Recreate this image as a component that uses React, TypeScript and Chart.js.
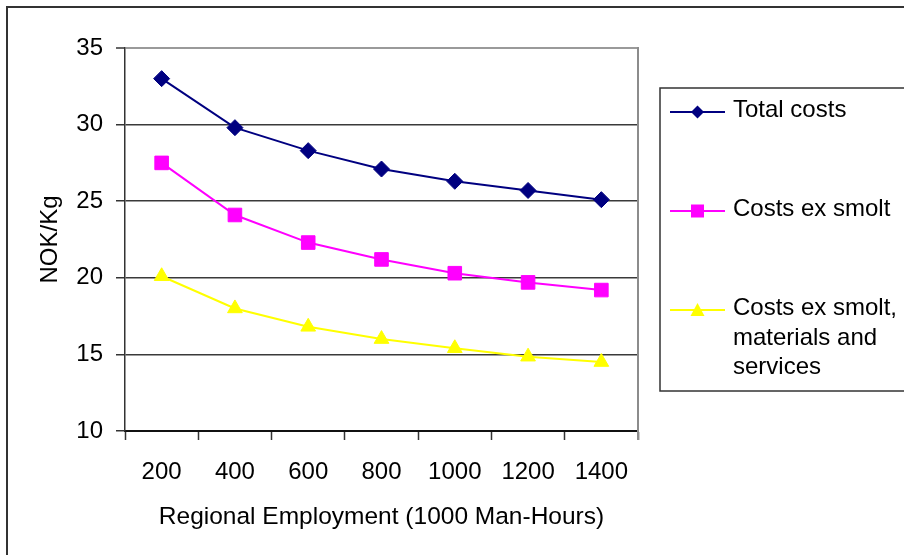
import React, { useEffect, useRef } from 'react';
import { Chart, registerables } from 'chart.js';

Chart.register(...registerables);

// Regional employment categories (1000 man-hours)
const categories = ['200', '400', '600', '800', '1000', '1200', '1400'];

// Cost per kg (NOK) for each series
const totalCosts = [33.0, 29.8, 28.3, 27.1, 26.3, 25.7, 25.1];
const costsExSmolt = [27.5, 24.1, 22.3, 21.2, 20.3, 19.7, 19.2];
const costsExSmoltMatServ = [20.1, 18.0, 16.8, 16.0, 15.4, 14.85, 14.5];

// Legend text, one entry per series (multi-line where wrapped)
const seriesLabels = [
  ['Total costs'],
  ['Costs ex smolt'],
  ['Costs ex smolt,', 'materials and', 'services'],
];

const yMin = 10;
const yMax = 35;
const yStep = 5;

const xTitle = 'Regional Employment (1000 Man-Hours)';
const yTitle = 'NOK/Kg';

const FONT = "'Liberation Sans', Arial, Helvetica, sans-serif";

// Outer frame of the whole figure
const framePlugin = {
  id: 'frame',
  beforeDraw(chart: any) {
    const ctx = chart.ctx;
    ctx.save();
    ctx.fillStyle = '#ffffff';
    ctx.fillRect(0, 0, chart.width, chart.height);
    ctx.fillStyle = '#333333';
    ctx.fillRect(6, 6, 2, chart.height);
    ctx.fillRect(6, 6, chart.width, 2);
    ctx.restore();
  },
  afterDraw(chart: any) {
    // right edge of the plot area
    const { right, top, bottom } = chart.chartArea;
    const ctx = chart.ctx;
    ctx.save();
    ctx.strokeStyle = '#8c8c8c';
    ctx.lineWidth = 2;
    ctx.beginPath();
    ctx.moveTo(right, top - 1);
    ctx.lineTo(right, bottom + 9);
    ctx.stroke();
    ctx.restore();
  },
};

function drawMarker(ctx: CanvasRenderingContext2D, style: string, x: number, y: number, color: string) {
  ctx.fillStyle = color;
  ctx.beginPath();
  if (style === 'rectRot') {
    ctx.moveTo(x, y - 6.5);
    ctx.lineTo(x + 6.5, y);
    ctx.lineTo(x, y + 6.5);
    ctx.lineTo(x - 6.5, y);
  } else if (style === 'rect') {
    ctx.rect(x - 6.5, y - 6.5, 13, 13);
  } else {
    ctx.moveTo(x, y - 7);
    ctx.lineTo(x + 7, y + 6);
    ctx.lineTo(x - 7, y + 6);
  }
  ctx.closePath();
  ctx.fill();
}

// Boxed legend on the right, drawn from the dataset styles
const sideLegendPlugin = {
  id: 'sideLegend',
  afterDraw(chart: any) {
    const ctx = chart.ctx;
    const left = 660;
    const top = 88;
    const bottom = 391;
    const rowY = [112, 211, 310];
    ctx.save();
    ctx.strokeStyle = '#333333';
    ctx.lineWidth = 1.5;
    ctx.strokeRect(left, top, chart.width + 10 - left, bottom - top);
    ctx.font = `24px ${FONT}`;
    ctx.textBaseline = 'alphabetic';
    ctx.textAlign = 'left';
    chart.data.datasets.forEach((ds: any, i: number) => {
      const y = rowY[i];
      ctx.strokeStyle = ds.borderColor;
      ctx.lineWidth = 2;
      ctx.beginPath();
      ctx.moveTo(670, y);
      ctx.lineTo(725, y);
      ctx.stroke();
      drawMarker(ctx, ds.pointStyle, 697.5, y, ds.pointBackgroundColor);
      ctx.fillStyle = '#000000';
      seriesLabels[i].forEach((line, j) => {
        ctx.fillText(line, 733, y + 5 + j * 29.5);
      });
    });
    ctx.restore();
  },
};

export default function App() {
  const canvasRef = useRef<HTMLCanvasElement | null>(null);

  useEffect(() => {
    if (!canvasRef.current) return;
    const chart = new Chart(canvasRef.current, {
      type: 'line',
      data: {
        labels: categories,
        datasets: [
          {
            label: seriesLabels[0].join(' '),
            data: totalCosts,
            borderColor: '#000080',
            backgroundColor: '#000080',
            pointBackgroundColor: '#000080',
            pointBorderColor: '#000080',
            pointStyle: 'rectRot',
            pointRadius: 8,
            pointBorderWidth: 1,
            borderWidth: 2,
            tension: 0,
          },
          {
            label: seriesLabels[1].join(' '),
            data: costsExSmolt,
            borderColor: '#ff00ff',
            backgroundColor: '#ff00ff',
            pointBackgroundColor: '#ff00ff',
            pointBorderColor: '#ff00ff',
            pointStyle: 'rect',
            pointRadius: 9.6,
            pointBorderWidth: 1,
            borderWidth: 2,
            tension: 0,
          },
          {
            label: seriesLabels[2].join(' '),
            data: costsExSmoltMatServ,
            borderColor: '#ffff00',
            backgroundColor: '#ffff00',
            pointBackgroundColor: '#ffff00',
            pointBorderColor: '#ffff00',
            pointStyle: 'triangle',
            pointRadius: 8.5,
            pointBorderWidth: 1,
            borderWidth: 2,
            tension: 0,
          },
        ],
      },
      options: {
        animation: false,
        responsive: false,
        devicePixelRatio: 1,
        layout: { padding: { left: 0, top: 48, right: 266, bottom: 0 } },
        plugins: {
          legend: { display: false },
          tooltip: { enabled: false },
        },
        scales: {
          x: {
            type: 'category',
            offset: true,
            afterFit: (scale: any) => {
              scale.height = 124;
            },
            grid: {
              offset: true,
              drawOnChartArea: false,
              drawTicks: true,
              tickLength: 9,
              tickColor: '#333333',
              tickWidth: 1.5,
            },
            border: { display: true, color: '#111111', width: 2 },
            ticks: {
              color: '#000000',
              padding: 18,
              maxRotation: 0,
              autoSkip: false,
              font: { family: FONT, size: 24 },
            },
            title: {
              display: true,
              text: xTitle,
              color: '#000000',
              font: { family: FONT, size: 24.5 },
              padding: { top: 0, bottom: 23 },
            },
          },
          y: {
            min: yMin,
            max: yMax,
            afterFit: (scale: any) => {
              scale.width = 125;
            },
            grid: {
              color: (c: any) => (c.tick && c.tick.value === yMax ? '#9a9a9a' : '#3a3a3a'),
              lineWidth: (c: any) => (c.tick && c.tick.value === yMax ? 2 : 1.5),
              tickLength: 9,
              tickColor: '#333333',
              tickWidth: 1.5,
            },
            border: { display: true, color: '#333333', width: 1.5 },
            ticks: {
              stepSize: yStep,
              color: '#000000',
              padding: 13,
              font: { family: FONT, size: 24 },
            },
            title: {
              display: true,
              text: yTitle,
              color: '#000000',
              font: { family: FONT, size: 24 },
              padding: { top: 36, bottom: 0 },
            },
          },
        },
      },
      plugins: [framePlugin, sideLegendPlugin],
    });
    return () => chart.destroy();
  }, []);

  return (
    <div style={{ position: 'absolute', left: 0, top: 0, width: 904, height: 555, overflow: 'hidden' }}>
      <canvas ref={canvasRef} width={904} height={555} style={{ display: 'block' }} />
    </div>
  );
}
